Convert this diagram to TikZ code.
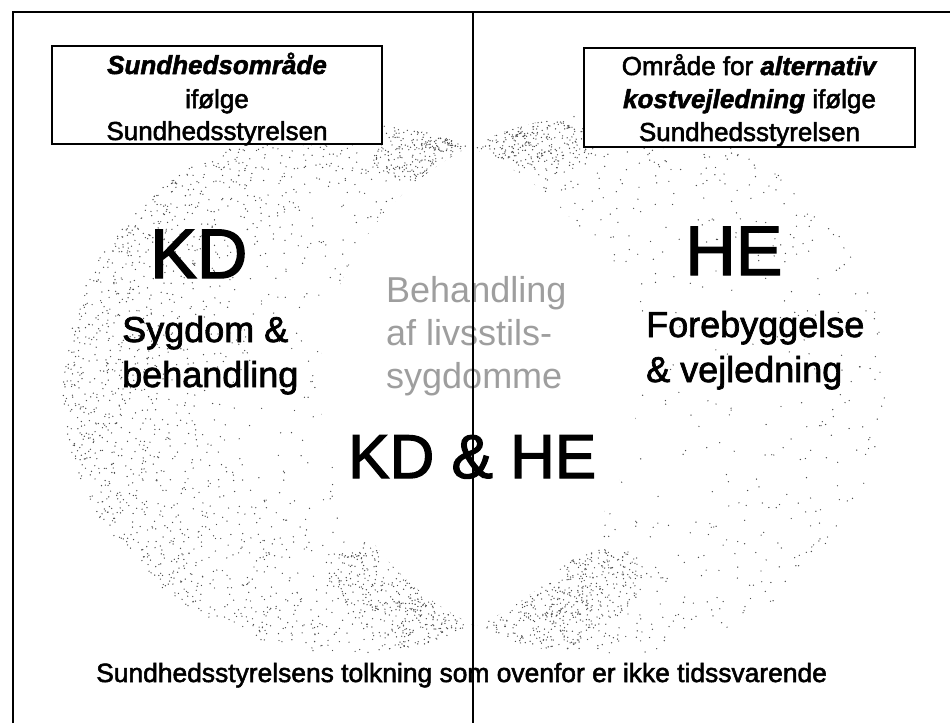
\documentclass[tikz,border=0pt]{standalone}
\usepackage{fontspec}
\setmainfont{Liberation Sans}[FakeBold=2]
\newfontfamily\lightfont{Liberation Sans}
% ring-weighted stipple over a whole ellipse: cx cy rx ry dark-angle count
\newcommand\mystipple[6]{%
  \foreach \k in {1,...,#6}{%
    \pgfmathsetmacro\ra{sqrt(rnd)}%
    \pgfmathsetmacro\th{360*rnd}%
    \pgfmathsetmacro\w{0.05+0.93*\ra^3*(0.55+0.45*cos(\th-#5))}%
    \pgfmathsetmacro\keep{rnd<\w}%
    \ifdim\keep pt>0.5pt
      \fill[dotc] ({#1+#3*\ra*cos(\th)},{#2+#4*\ra*sin(\th)}) circle[radius=0.7pt];
    \fi
  }}
% evenly spread cluster, rotated: cx cy rx ry angle count
\newcommand\mycluster[6]{%
  \foreach \k in {1,...,#6}{%
    \pgfmathsetmacro\ra{rnd^0.65}%
    \pgfmathsetmacro\th{360*rnd}%
    \pgfmathsetmacro\ux{#3*\ra*cos(\th)}%
    \pgfmathsetmacro\uy{#4*\ra*sin(\th)}%
    \fill[dotc] ({#1+\ux*cos(#5)-\uy*sin(#5)},{#2+\ux*sin(#5)+\uy*cos(#5)}) circle[radius=0.7pt];
  }}
\begin{document}
\begin{tikzpicture}[x=1pt,y=-1pt,
  dotc/.style={fill=black!70},
  frameline/.style={line width=2pt, black},
  boxstyle/.style={draw, line width=1.4pt, fill=white, inner sep=0pt},
  boxtext/.style={inner sep=0pt, anchor=base, font=\fontsize{26}{30}\selectfont},
  bigtext/.style={inner sep=0pt, anchor=base west, font=\fontsize{70}{80}\selectfont},
  midtext/.style={inner sep=0pt, anchor=base west, font=\fontsize{36}{43}\selectfont},
  graytext/.style={inner sep=0pt, anchor=base west, text=black!38, font=\lightfont\fontsize{36}{43}\selectfont},
  bottomtext/.style={inner sep=0pt, anchor=base west, font=\fontsize{26.4}{30}\selectfont}]
\useasboundingbox (0,0) rectangle (950,723);
\fill[white] (0,0) rectangle (950,723);
% stippled circles
\pgfmathsetseed{7}
\mystipple{350}{388}{287}{265}{180}{8500}
\mystipple{603}{385}{283}{270}{180}{6500}
% denser stipple at the tips of the two crescents
\begin{scope}
  \clip (350,388) ellipse [x radius=287pt, y radius=265pt];
  \mycluster{430}{148}{60}{30}{-15}{300}
  \mycluster{405}{605}{85}{40}{30}{420}
\end{scope}
\begin{scope}
  \clip (603,385) ellipse [x radius=283pt, y radius=270pt];
  \mycluster{530}{138}{65}{30}{15}{300}
  \mycluster{560}{610}{95}{42}{-30}{480}
\end{scope}
% white overlap lens
\begin{scope}
  \clip (350,388) ellipse [x radius=287pt, y radius=265pt];
  \fill[white] (603,385) ellipse [x radius=283pt, y radius=270pt];
\end{scope}
% boxes
\node[boxstyle, minimum width=330pt, minimum height=98pt] (box1) at (217,95) {};
\node[boxstyle, minimum width=331pt, minimum height=99pt] (box2) at (749.5,97.5) {};
\node[boxtext] (b1a) at (217,74) {\textbf{\textit{Sundhedsområde}}};
\node[boxtext] (b1b) at (217,108) {ifølge};
\node[boxtext] (b1c) at (217,140) {Sundhedsstyrelsen};
\node[boxtext] (b2a) at (749.5,75) {Område for \textbf{\textit{alternativ}}};
\node[boxtext] (b2b) at (749.5,108) {\textbf{\textit{kostvejledning}} ifølge};
\node[boxtext] (b2c) at (749.5,141) {Sundhedsstyrelsen};
% main labels
\node[bigtext] (kd) at (150,278) {KD};
\node[bigtext] (he) at (685,275) {HE};
\node[midtext] (s1) at (122,342) {Sygdom \&};
\node[midtext] (s2) at (122,387) {behandling};
\node[midtext] (f1) at (646,337) {Forebyggelse};
\node[midtext] (f2) at (646,382) {\& vejledning};
\node[graytext] (g1) at (386,302) {Behandling};
\node[graytext] (g2) at (386,345) {af livsstils-};
\node[graytext] (g3) at (386,388) {sygdomme};
\node[inner sep=0pt, anchor=base west, font=\fontsize{62}{70}\selectfont] (kdhe) at (348,478) {KD \& HE};
\node[bottomtext] (bot) at (96,682) {Sundhedsstyrelsens tolkning som ovenfor er ikke tidssvarende};
% frame
\draw[frameline] (13,723) -- (13,12) -- (950,12);
\draw[line width=1.8pt] (473,12) -- (473,723);
\end{tikzpicture}
\end{document}
